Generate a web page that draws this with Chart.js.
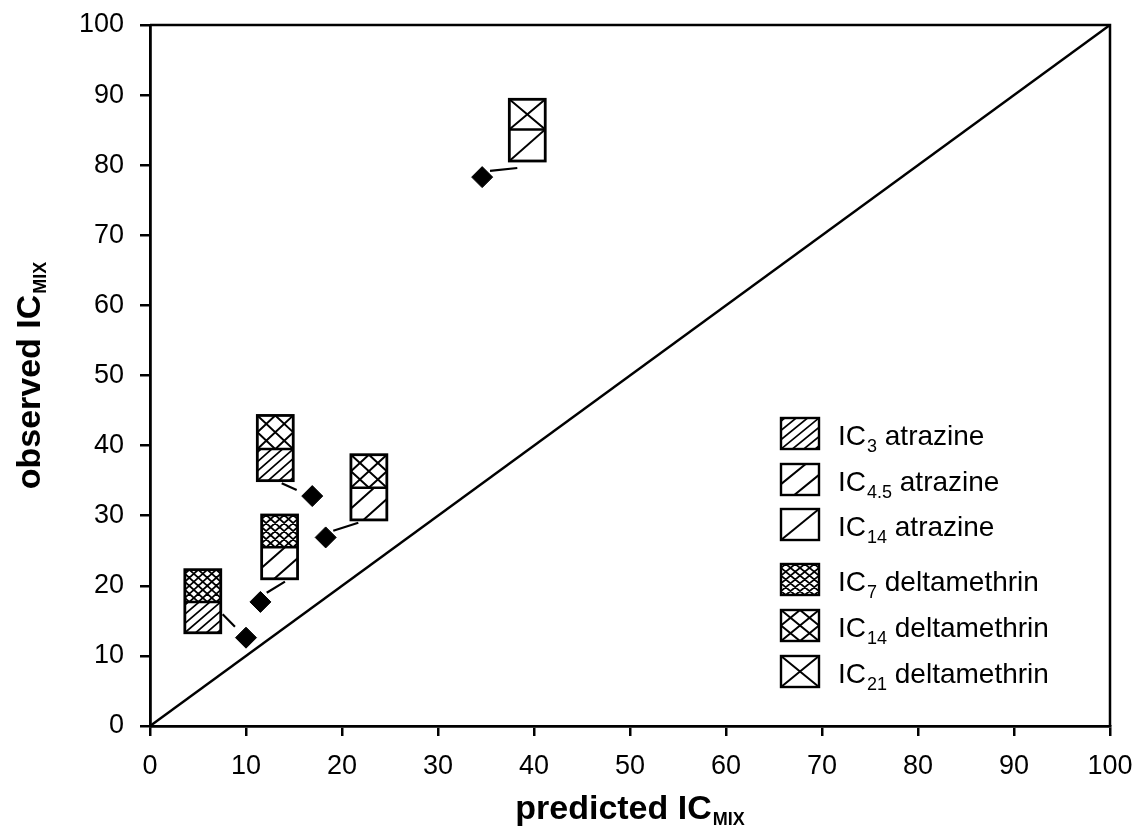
<!DOCTYPE html>
<html><head><meta charset="utf-8">
<script src="https://cdn.jsdelivr.net/npm/chart.js@4"></script>
<style>html,body{margin:0;padding:0;background:#fff}#wrap{width:1142px;height:837px;position:relative}</style>
</head><body><div id="wrap"><canvas id="c" width="1142" height="837"></canvas></div>
<script>
// ---- data ----
const tickValues = [0,10,20,30,40,50,60,70,80,90,100];
const pointsX = [10.0, 11.5, 18.3, 16.9, 34.6];
const pointsY = [12.6, 17.7, 26.9, 32.8, 78.3];
const boxCenterX = [5.5, 13.5, 13.05, 22.8, 39.3];
const boxLow  = [13.3, 21.0, 35.0, 29.4, 80.6];
const boxMid  = [17.7, 25.5, 39.5, 34.0, 85.1];
const boxHigh = [22.3, 30.1, 44.3, 38.7, 89.4];
const boxLowKey  = ['a3','a45','a3','a45','a14'];
const boxHighKey = ['d7','d7','d14','d14','d21'];
const linkX1 = [7.57, 12.16, 19.09, 13.72, 35.42];
const linkY1 = [15.93, 19.0, 27.86, 34.62, 79.2];
const linkX2 = [8.85, 14.06, 21.7, 15.28, 38.26];
const linkY2 = [14.17, 20.6, 29.0, 33.67, 79.6];
const legendKeys = ['a3','a45','a14','d7','d14','d21'];
const legendSub  = ['3','4.5','14','7','14','21'];
const legendText = [' atrazine',' atrazine',' atrazine',' deltamethrin',' deltamethrin',' deltamethrin'];

const FONT = '"Liberation Sans", Arial, sans-serif';
const BOX_HALF = 1.87; // half width of boxes in x units

// hatch definitions
const HATCH = {
  a3:  {fw:[-0.9,-0.6,-0.3,0,0.3,0.6,0.9], bw:[], lw:1.7},
  a45: {fw:[-0.35,0.35], bw:[], lw:2},
  a14: {fw:[0], bw:[], lw:2},
  d7:  {fw:[-0.875,-0.625,-0.375,-0.125,0.125,0.375,0.625,0.875], bw:[-0.875,-0.625,-0.375,-0.125,0.125,0.375,0.625,0.875], lw:1.8},
  d14: {fw:[-0.5,0,0.5], bw:[-0.5,0,0.5], lw:2},
  d21: {fw:[0], bw:[0], lw:2}
};

function hatchRect(ctx, x, y, w, h, key, border) {
  const d = HATCH[key];
  ctx.save();
  ctx.fillStyle = '#fff';
  ctx.fillRect(x, y, w, h);
  ctx.beginPath(); ctx.rect(x, y, w, h); ctx.clip();
  ctx.strokeStyle = '#000'; ctx.lineWidth = d.lw; ctx.lineCap = 'butt';
  ctx.beginPath();
  d.fw.forEach(c => {
    ctx.moveTo(x + (c - 1) * w, y + h + h);
    ctx.lineTo(x + (c + 2) * w, y + h - 2 * h);
  });
  d.bw.forEach(c => {
    ctx.moveTo(x + (c - 1) * w, y - h);
    ctx.lineTo(x + (c + 2) * w, y + 2 * h);
  });
  ctx.stroke();
  ctx.restore();
  if (border) {
    ctx.save(); ctx.strokeStyle = '#000'; ctx.lineWidth = border;
    ctx.strokeRect(x, y, w, h); ctx.restore();
  }
}

function drawParts(ctx, x, y, parts, align) {
  let total = 0;
  parts.forEach(p => { ctx.font = p.font; p.w = ctx.measureText(p.t).width; total += p.w + (p.gap || 0); });
  let cx = align === 'center' ? x - total / 2 : x;
  ctx.textAlign = 'left'; ctx.textBaseline = 'alphabetic';
  parts.forEach(p => { ctx.font = p.font; ctx.fillText(p.t, cx + (p.gap || 0), y + (p.dy || 0)); cx += p.w + (p.gap || 0); });
}

const overlay = {
  id: 'overlay',
  afterDatasetsDraw(chart) {
    const ctx = chart.ctx, xs = chart.scales.x, ys = chart.scales.y;
    const a = chart.chartArea;
    ctx.save();
    ctx.strokeStyle = '#000'; ctx.lineWidth = 2.5;
    ctx.beginPath();
    ctx.moveTo(a.left, a.top); ctx.lineTo(a.right, a.top); ctx.lineTo(a.right, a.bottom);
    ctx.stroke();
    ctx.restore();
    for (let i = 0; i < boxCenterX.length; i++) {
      const x1 = xs.getPixelForValue(boxCenterX[i] - BOX_HALF);
      const x2 = xs.getPixelForValue(boxCenterX[i] + BOX_HALF);
      const yl = ys.getPixelForValue(boxLow[i]);
      const ym = ys.getPixelForValue(boxMid[i]);
      const yh = ys.getPixelForValue(boxHigh[i]);
      hatchRect(ctx, x1, ym, x2 - x1, yl - ym, boxLowKey[i], 0);
      hatchRect(ctx, x1, yh, x2 - x1, ym - yh, boxHighKey[i], 0);
      ctx.save(); ctx.strokeStyle = '#000'; ctx.lineWidth = 2.8;
      ctx.strokeRect(x1, yh, x2 - x1, yl - yh);
      ctx.lineWidth = 2.5;
      ctx.beginPath(); ctx.moveTo(x1, ym); ctx.lineTo(x2, ym); ctx.stroke();
      ctx.restore();
    }
    const rowsTop = [418, 464, 509, 564, 610, 656];
    ctx.save();
    ctx.fillStyle = '#000';
    for (let i = 0; i < legendKeys.length; i++) {
      const t = rowsTop[i];
      hatchRect(ctx, 781, t, 38, 31, legendKeys[i], 2.4);
      drawParts(ctx, 838, t + 27, [
        {t: 'IC', font: '28px ' + FONT},
        {t: legendSub[i], font: '18px ' + FONT, dy: 7, gap: 1},
        {t: legendText[i], font: '28px ' + FONT}
      ], 'left');
    }
    ctx.restore();
  },
  afterDraw(chart) {
    const ctx = chart.ctx, a = chart.chartArea;
    ctx.save();
    ctx.fillStyle = '#000';
    drawParts(ctx, (a.left + a.right) / 2, 819, [
      {t: 'predicted IC', font: 'bold 34px ' + FONT},
      {t: 'MIX', font: 'bold 18px ' + FONT, dy: 6, gap: 1}
    ], 'center');
    ctx.translate(40, (a.top + a.bottom) / 2);
    ctx.rotate(-Math.PI / 2);
    drawParts(ctx, 0, 0, [
      {t: 'observed IC', font: 'bold 34px ' + FONT},
      {t: 'MIX', font: 'bold 18px ' + FONT, dy: 6, gap: 1}
    ], 'center');
    ctx.restore();
  }
};

const diamonds = pointsX.map((x, i) => ({x, y: pointsY[i]}));
const links = [];
linkX1.forEach((x, i) => {
  links.push({x, y: linkY1[i]});
  links.push({x: linkX2[i], y: linkY2[i]});
  links.push({x: (x + linkX2[i]) / 2, y: null});
});

new Chart(document.getElementById('c'), {
  type: 'scatter',
  data: {
    datasets: [
      {type: 'line', data: [{x: 0, y: 0}, {x: 100, y: 100}], borderColor: '#000', borderWidth: 2.5, pointRadius: 0, fill: false},
      {type: 'line', data: links, borderColor: '#000', borderWidth: 2.2, pointRadius: 0, fill: false, spanGaps: false},
      {data: diamonds, pointStyle: 'rectRot', pointRadius: 10.5, pointHoverRadius: 10.5, backgroundColor: '#000', borderColor: '#000', borderWidth: 1}
    ]
  },
  options: {
    responsive: false,
    animation: false,
    events: [],
    layout: {padding: {left: 0, top: 25, right: 32, bottom: 0}},
    plugins: {legend: {display: false}, tooltip: {enabled: false}},
    scales: {
      x: {
        type: 'linear', min: 0, max: 100,
        afterBuildTicks: s => { s.ticks = tickValues.map(v => ({value: v})); },
        afterFit: s => { s.height = 111; s.paddingLeft = 0; s.paddingRight = 0; },
        grid: {drawOnChartArea: false, drawTicks: true, tickLength: 10, color: '#000', lineWidth: 2.5},
        border: {display: true, color: '#000', width: 2.8},
        ticks: {color: '#000', font: {family: FONT, size: 27}, padding: 14, maxRotation: 0, autoSkip: false}
      },
      y: {
        type: 'linear', min: 0, max: 100,
        afterBuildTicks: s => { s.ticks = tickValues.map(v => ({value: v})); },
        afterFit: s => { s.width = 150; s.paddingTop = 0; s.paddingBottom = 0; },
        grid: {drawOnChartArea: false, drawTicks: true, tickLength: 10, color: '#000', lineWidth: 2.5},
        border: {display: true, color: '#000', width: 2.8},
        ticks: {color: '#000', font: {family: FONT, size: 27}, padding: 16, autoSkip: false}
      }
    }
  },
  plugins: [overlay]
});
</script></body></html>
